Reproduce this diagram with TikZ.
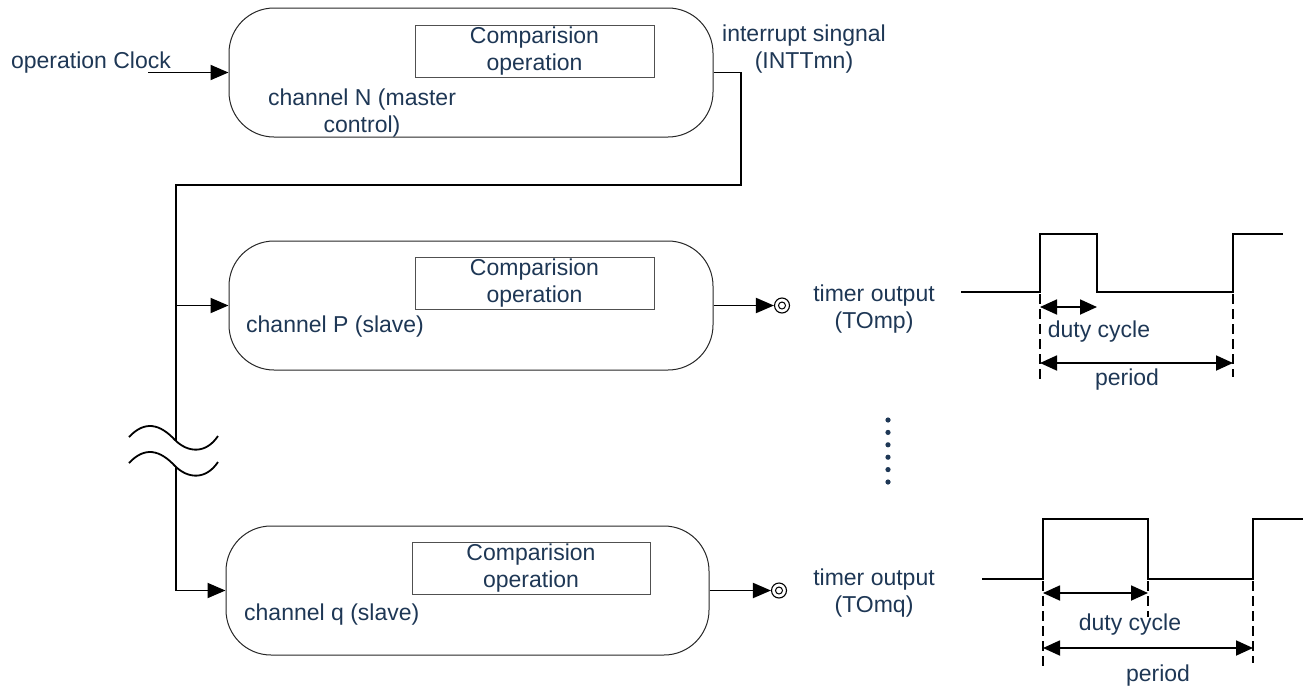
\documentclass[tikz,border=0pt]{standalone}
\usepackage{fontspec}
\setmainfont{Liberation Sans}
\usetikzlibrary{arrows.meta}
\definecolor{txt}{RGB}{30,55,85}
\definecolor{rectc}{RGB}{80,80,80}
\begin{document}
\begin{tikzpicture}[x=1pt,y=-1pt,
  every node/.style={font=\fontsize{23}{27}\selectfont, text=txt},
  chan/.style={draw=black!85, line width=1pt, rounded corners=45pt, minimum width=484pt, minimum height=129pt, inner sep=0},
  cmp/.style={draw=rectc, line width=1pt, minimum width=239pt, minimum height=52pt, align=center, inner sep=0},
  lbl/.style={align=center, inner sep=0},
  conn/.style={line width=1.9pt},
  arr/.style={conn, -{Triangle[length=18pt,width=15pt]}},
  darr/.style={line width=1.8pt, {Triangle[length=17pt,width=15pt]}-{Triangle[length=17pt,width=15pt]}},
  dsh/.style={line width=1.3pt, dash pattern=on 10pt off 5pt},
  wave/.style={line width=1.9pt},
  outc/.style={circle, draw=black, line width=1.1pt, minimum size=15pt, inner sep=0},
  inc/.style={circle, draw=black, line width=1pt, minimum size=7pt, inner sep=0}
]
\useasboundingbox (0,0) rectangle (1306,691);

% channel boxes
\node[chan] (N) at (471,72.5) {};
\node[chan] (P) at (471,305.5) {};
\node[chan, minimum width=483pt] (Q) at (467.5,590.5) {};

% comparison boxes
\node[cmp] (cN) at (534.5,51) {Comparision\\operation};
\node[cmp] (cP) at (534.5,283) {Comparision\\operation};
\node[cmp, minimum width=238pt] (cQ) at (531,568) {Comparision\\operation};

% labels
\node[lbl] (lN) at (362,113) {channel N (master\\control)};
\node[lbl, anchor=west] (lP) at (246,327) {channel P (slave)};
\node[lbl, anchor=west] (lQ) at (244,615) {channel q (slave)};
\node[lbl] (clk) at (91,63) {operation Clock};
\node[lbl] (intr) at (804,49) {interrupt singnal\\(INTTmn)};
\node[lbl] (toP) at (874,309) {timer output\\(TOmp)};
\node[lbl] (toQ) at (874,593) {timer output\\(TOmq)};

% output terminals
\node[outc] (oP) at (782,305.5) {};
\node[inc] (oPi) at (oP) {};
\node[outc] (oQ) at (779,590.5) {};
\node[inc] (oQi) at (oQ) {};

% connectors
\coordinate (clkS) at (148,72.5);
\coordinate (c1) at (741,185);
\coordinate (c2) at (176,185);
\coordinate (b1) at (176,441);
\coordinate (b2) at (176,467);
\draw[arr] (clkS) -- (N.west);
\draw[conn] (N.east) -| (c1) -- (c2) -- (b1);
\draw[arr] (c2 |- P.west) -- (P.west);
\draw[arr] (b2) |- (Q.west);
\draw[arr] (P.east) -- (oP.west);
\draw[arr] (Q.east) -- (oQ.west);

% break symbol
\draw[line width=1.8pt] (129,437) .. controls (145,420) and (160,424) .. (175,440) .. controls (188,453) and (206,454) .. (218,436);
\draw[line width=1.8pt] (129,463) .. controls (145,446) and (160,450) .. (175,466) .. controls (188,479) and (206,480) .. (218,462);

% dots
\foreach \yy in {420,432.4,444.8,457.2,469.6,482} \fill[txt] (888,\yy) circle (2.6pt);

% waveform P
\draw[wave] (961,292) -- (1040,292) -- (1040,234) -- (1097,234) -- (1097,292) -- (1233,292) -- (1233,234) -- (1283,234);
\draw[dsh] (1040,294) -- (1040,383);
\draw[dsh] (1233,294) -- (1233,377);
\draw[darr] (1040,307) -- (1097,307);
\draw[darr] (1040,363) -- (1233,363);
\node[lbl] (dP) at (1099,332) {duty cycle};
\node[lbl] (pP) at (1127,380) {period};

% waveform q
\draw[wave] (982,579) -- (1043,579) -- (1043,519) -- (1148,519) -- (1148,579) -- (1253,579) -- (1253,519) -- (1303,519);
\draw[dsh] (1043,581) -- (1043,667);
\draw[dsh] (1148,581) -- (1148,617);
\draw[dsh] (1253,581) -- (1253,663);
\draw[darr] (1043,593) -- (1148,593);
\draw[darr] (1043,648) -- (1253,648);
\node[lbl] (dQ) at (1130,625) {duty cycle};
\node[lbl] (pQ) at (1158,676) {period};
\end{tikzpicture}
\end{document}
